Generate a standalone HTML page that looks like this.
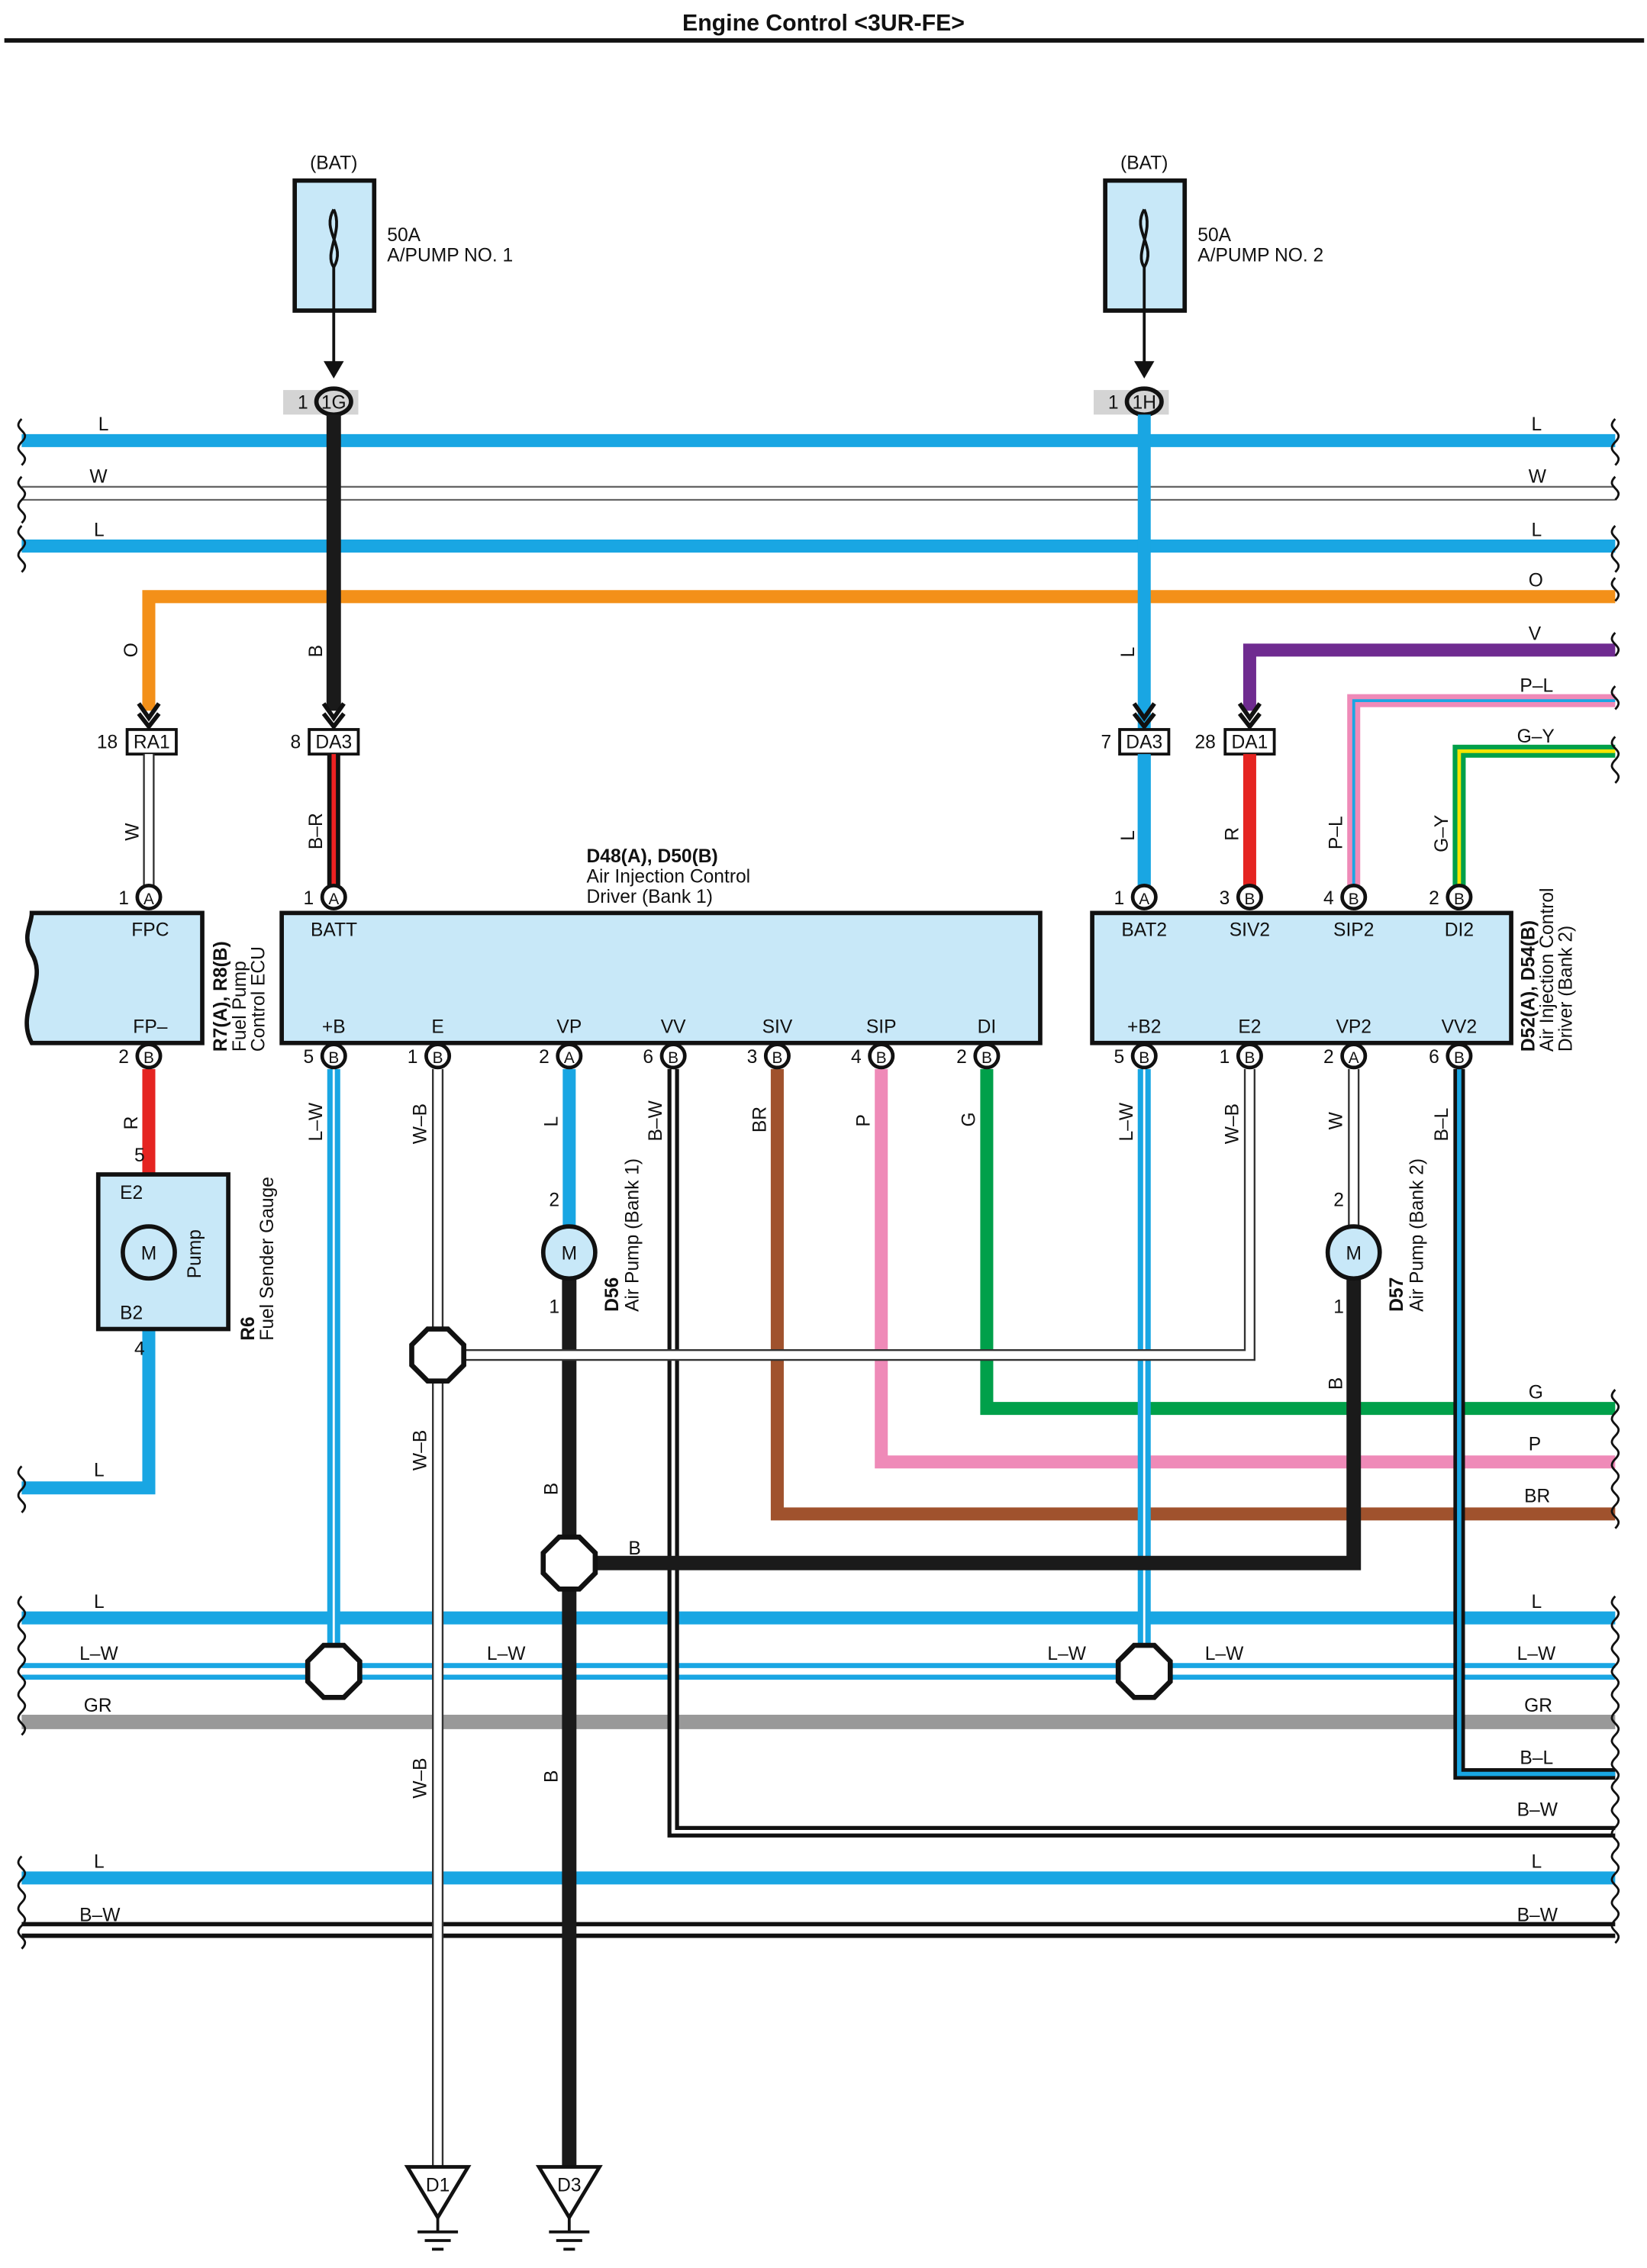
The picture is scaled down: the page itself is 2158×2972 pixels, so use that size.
<!DOCTYPE html>
<html><head><meta charset="utf-8"><style>
html,body{margin:0;padding:0;background:#fff}
svg{display:block}
text{font-family:"Liberation Sans",sans-serif;fill:#111}
.Lw{stroke:#19a6e3;stroke-width:9;fill:none}
.Bw{stroke:#1a1a1a;stroke-width:10;fill:none}
.Wo{stroke:#333;stroke-width:8;fill:none}
.Wi{stroke:#fff;stroke-width:5.5;fill:none}
.box{fill:#c8e8f8;stroke:#111;stroke-width:3}
.pin{fill:#fff;stroke:#111;stroke-width:2.5}
.oct{fill:#fff;stroke:#111;stroke-width:3.5}
.t{font-size:13px}
.tb{font-size:13px;font-weight:bold}
</style></head><body>
<svg width="2158" height="2972" viewBox="0 0 1140 1570" preserveAspectRatio="none" xmlns="http://www.w3.org/2000/svg">
<text x="570" y="21" text-anchor="middle" style="font-size:16px;font-weight:bold">Engine Control &lt;3UR-FE&gt;</text>
<line x1="3" y1="28" x2="1138" y2="28" stroke="#111" stroke-width="3"/>

<!-- fuses -->
<g>
<text x="231" y="117" text-anchor="middle" class="t">(BAT)</text>
<rect x="204" y="125" width="55" height="90" class="box"/>
<path d="M231 145 C222 160,240 170,231 185 C224 175,238 160,231 145" fill="none" stroke="#111" stroke-width="2"/>
<line x1="231" y1="185" x2="231" y2="255" stroke="#111" stroke-width="2"/>
<path d="M224 250 L231 262 L238 250 Z" fill="#111"/>
<text x="268" y="167" class="t">50A</text><text x="268" y="181" class="t">A/PUMP NO. 1</text>
<rect x="196" y="270" width="52" height="17" fill="#d4d4d4"/>
<text x="206" y="283" class="t">1</text>
<ellipse cx="231" cy="278" rx="12" ry="9" fill="#d4d4d4" stroke="#111" stroke-width="3"/>
<text x="231" y="283" text-anchor="middle" class="t">1G</text>
</g>
<g>
<text x="792" y="117" text-anchor="middle" class="t">(BAT)</text>
<rect x="765" y="125" width="55" height="90" class="box"/>
<path d="M792 145 C783 160,801 170,792 185 C785 175,799 160,792 145" fill="none" stroke="#111" stroke-width="2"/>
<line x1="792" y1="185" x2="792" y2="255" stroke="#111" stroke-width="2"/>
<path d="M785 250 L792 262 L799 250 Z" fill="#111"/>
<text x="829" y="167" class="t">50A</text><text x="829" y="181" class="t">A/PUMP NO. 2</text>
<rect x="757" y="270" width="52" height="17" fill="#d4d4d4"/>
<text x="767" y="283" class="t">1</text>
<ellipse cx="792" cy="278" rx="12" ry="9" fill="#d4d4d4" stroke="#111" stroke-width="3"/>
<text x="792" y="283" text-anchor="middle" class="t">1H</text>
</g>

<!-- top buses -->
<line x1="15" y1="305" x2="1118" y2="305" class="Lw"/>
<line x1="15" y1="337" x2="1118" y2="337" stroke="#666" stroke-width="1.2"/>
<line x1="15" y1="346" x2="1118" y2="346" stroke="#666" stroke-width="1.2"/>
<line x1="15" y1="378" x2="1118" y2="378" class="Lw"/>
<path d="M1118 413 H103 V492" stroke="#f39019" stroke-width="9" fill="none"/>
<path d="M1118 450 H865 V492" stroke="#6f2b90" stroke-width="9" fill="none"/>
<path d="M1118 485 H937 V615" stroke="#ef8ab8" stroke-width="9" fill="none"/>
<path d="M1118 485 H937 V615" stroke="#19a6e3" stroke-width="2" fill="none"/>
<path d="M1118 520 H1010 V615" stroke="#00a04a" stroke-width="9" fill="none"/>
<path d="M1118 520 H1010 V615" stroke="#f5e400" stroke-width="2.5" fill="none"/>
<text x="68" y="298" class="t">L</text><text x="1060" y="298" class="t">L</text>
<text x="62" y="334" class="t">W</text><text x="1058" y="334" class="t">W</text>
<text x="65" y="371" class="t">L</text><text x="1060" y="371" class="t">L</text>
<text x="1058" y="406" class="t">O</text><text x="1058" y="443" class="t">V</text>
<text x="1052" y="479" class="t">P–L</text><text x="1050" y="514" class="t">G–Y</text>

<!-- vertical feeds -->
<line x1="231" y1="287" x2="231" y2="492" class="Bw"/>
<line x1="792" y1="287" x2="792" y2="620" class="Lw"/>
<path d="M96 487 L103 497 L110 487 M96 494 L103 503 L110 494" stroke="#111" stroke-width="3" fill="none"/>
<path d="M224 487 L231 497 L238 487 M224 494 L231 503 L238 494" stroke="#111" stroke-width="3" fill="none"/>
<path d="M785 487 L792 497 L799 487 M785 494 L792 503 L799 494" stroke="#111" stroke-width="3" fill="none"/>
<path d="M858 487 L865 497 L872 487 M858 494 L865 503 L872 494" stroke="#111" stroke-width="3" fill="none"/>
<text x="95" y="455" class="t" transform="rotate(-90 95 455)">O</text>
<text x="223" y="455" class="t" transform="rotate(-90 223 455)">B</text>
<text x="785" y="455" class="t" transform="rotate(-90 785 455)">L</text>

<!-- connectors row -->
<g class="t">
<text x="67" y="518">18</text><rect x="88" y="505" width="34" height="17" fill="#fff" stroke="#111" stroke-width="2"/><text x="105" y="518" text-anchor="middle">RA1</text>
<text x="201" y="518">8</text><rect x="214" y="505" width="34" height="17" fill="#fff" stroke="#111" stroke-width="2"/><text x="231" y="518" text-anchor="middle">DA3</text>
<text x="762" y="518">7</text><rect x="775" y="505" width="34" height="17" fill="#fff" stroke="#111" stroke-width="2"/><text x="792" y="518" text-anchor="middle">DA3</text>
<text x="827" y="518">28</text><rect x="848" y="505" width="34" height="17" fill="#fff" stroke="#111" stroke-width="2"/><text x="865" y="518" text-anchor="middle">DA1</text>
</g>
<line x1="103" y1="522" x2="103" y2="615" class="Wo"/><line x1="103" y1="522" x2="103" y2="615" class="Wi"/>
<line x1="231" y1="522" x2="231" y2="615" stroke="#111" stroke-width="9"/>
<line x1="231" y1="522" x2="231" y2="615" stroke="#e22" stroke-width="3"/>
<line x1="792" y1="522" x2="792" y2="615" class="Lw"/>
<line x1="865" y1="522" x2="865" y2="615" stroke="#e52421" stroke-width="9"/>
<text x="96" y="582" class="t" transform="rotate(-90 96 582)">W</text>
<text x="223" y="588" class="t" transform="rotate(-90 223 588)">B–R</text>
<text x="785" y="582" class="t" transform="rotate(-90 785 582)">L</text>
<text x="857" y="582" class="t" transform="rotate(-90 857 582)">R</text>
<text x="929" y="588" class="t" transform="rotate(-90 929 588)">P–L</text>
<text x="1002" y="590" class="t" transform="rotate(-90 1002 590)">G–Y</text>

<!-- boxes -->
<path d="M22 632 H140 V722 H22 C10 700,34 680,22 660 C15 648,22 640,22 632 Z" class="box"/>
<text x="104" y="648" text-anchor="middle" class="t">FPC</text>
<text x="104" y="715" text-anchor="middle" class="t">FP–</text>
<text x="157" y="728" class="tb" transform="rotate(-90 157 728)">R7(A), R8(B)</text>
<text x="170" y="728" class="t" transform="rotate(-90 170 728)">Fuel Pump</text>
<text x="183" y="728" class="t" transform="rotate(-90 183 728)">Control ECU</text>

<rect x="195" y="632" width="525" height="90" class="box"/>
<text x="406" y="597" class="tb">D48(A), D50(B)</text>
<text x="406" y="611" class="t">Air Injection Control</text>
<text x="406" y="625" class="t">Driver (Bank 1)</text>
<text x="215" y="648" class="t">BATT</text>
<g class="t" text-anchor="middle">
<text x="231" y="715">+B</text><text x="303" y="715">E</text><text x="394" y="715">VP</text><text x="466" y="715">VV</text><text x="538" y="715">SIV</text><text x="610" y="715">SIP</text><text x="683" y="715">DI</text>
</g>
<rect x="756" y="632" width="290" height="90" class="box"/>
<g class="t" text-anchor="middle">
<text x="792" y="648">BAT2</text><text x="865" y="648">SIV2</text><text x="937" y="648">SIP2</text><text x="1010" y="648">DI2</text>
<text x="792" y="715">+B2</text><text x="865" y="715">E2</text><text x="937" y="715">VP2</text><text x="1010" y="715">VV2</text>
</g>
<text x="1062" y="728" class="tb" transform="rotate(-90 1062 728)">D52(A), D54(B)</text>
<text x="1075" y="728" class="t" transform="rotate(-90 1075 728)">Air Injection Control</text>
<text x="1088" y="728" class="t" transform="rotate(-90 1088 728)">Driver (Bank 2)</text>

<!-- pins top -->
<g class="t">
<circle cx="103" cy="621" r="8" class="pin"/><text x="103" y="626" text-anchor="middle" style="font-size:11px">A</text><text x="82" y="626">1</text>
<circle cx="231" cy="621" r="8" class="pin"/><text x="231" y="626" text-anchor="middle" style="font-size:11px">A</text><text x="210" y="626">1</text>
<circle cx="792" cy="621" r="8" class="pin"/><text x="792" y="626" text-anchor="middle" style="font-size:11px">A</text><text x="771" y="626">1</text>
<circle cx="865" cy="621" r="8" class="pin"/><text x="865" y="626" text-anchor="middle" style="font-size:11px">B</text><text x="844" y="626">3</text>
<circle cx="937" cy="621" r="8" class="pin"/><text x="937" y="626" text-anchor="middle" style="font-size:11px">B</text><text x="916" y="626">4</text>
<circle cx="1010" cy="621" r="8" class="pin"/><text x="1010" y="626" text-anchor="middle" style="font-size:11px">B</text><text x="989" y="626">2</text>
</g>

<!-- lower wires -->
<!-- buses -->
<line x1="15" y1="1120" x2="1118" y2="1120" class="Lw"/>
<line x1="15" y1="1153" x2="1118" y2="1153" stroke="#19a6e3" stroke-width="3.5"/>
<line x1="15" y1="1161" x2="1118" y2="1161" stroke="#19a6e3" stroke-width="3.5"/>
<line x1="15" y1="1192" x2="1118" y2="1192" stroke="#999" stroke-width="10"/>
<line x1="15" y1="1300" x2="1118" y2="1300" class="Lw"/>
<line x1="15" y1="1332" x2="1118" y2="1332" stroke="#111" stroke-width="3"/>
<line x1="15" y1="1340" x2="1118" y2="1340" stroke="#111" stroke-width="3"/>
<!-- left pump -->
<line x1="103" y1="740" x2="103" y2="813" stroke="#e52421" stroke-width="9"/>
<path d="M103 920 V1030 H15" class="Lw"/>
<rect x="68" y="813" width="90" height="107" class="box"/>
<circle cx="103" cy="867" r="18" class="box"/>
<text x="103" y="872" text-anchor="middle" class="t">M</text>
<text x="83" y="830" class="t">E2</text><text x="83" y="913" class="t">B2</text>
<text x="93" y="804" class="t">5</text><text x="93" y="938" class="t">4</text>
<text x="95" y="782" class="t" transform="rotate(-90 95 782)">R</text>
<text x="139" y="885" class="t" transform="rotate(-90 139 885)">Pump</text>
<text x="176" y="928" class="tb" transform="rotate(-90 176 928)">R6</text>
<text x="189" y="928" class="t" transform="rotate(-90 189 928)">Fuel Sender Gauge</text>
<text x="65" y="1022" class="t">L</text>

<!-- bank1 wires -->
<line x1="231" y1="740" x2="231" y2="1157" class="Lw"/>
<line x1="231" y1="740" x2="231" y2="1157" stroke="#fff" stroke-width="1.5"/>
<line x1="303" y1="740" x2="303" y2="1500" class="Wo"/><line x1="303" y1="740" x2="303" y2="1500" class="Wi"/>
<line x1="394" y1="740" x2="394" y2="850" class="Lw"/>
<line x1="394" y1="885" x2="394" y2="1500" class="Bw"/>
<path d="M466 740 V1268 H1118" stroke="#111" stroke-width="8" fill="none"/>
<path d="M466 740 V1268 H1118" stroke="#fff" stroke-width="2.5" fill="none"/>
<path d="M538 740 V1048 H1118" stroke="#a0522d" stroke-width="9" fill="none"/>
<path d="M610 740 V1012 H1118" stroke="#ef8ab8" stroke-width="9" fill="none"/>
<path d="M683 740 V975 H1118" stroke="#00a04a" stroke-width="9" fill="none"/>
<!-- bank2 -->
<line x1="792" y1="740" x2="792" y2="1157" class="Lw"/>
<line x1="792" y1="740" x2="792" y2="1157" stroke="#fff" stroke-width="1.5"/>
<path d="M865 740 V938 H303" class="Wo"/><path d="M865 740 V938 H303" class="Wi"/>
<line x1="937" y1="740" x2="937" y2="850" class="Wo"/><line x1="937" y1="740" x2="937" y2="850" class="Wi"/>
<path d="M937 885 V1082 H394" class="Bw"/>
<path d="M1010 740 V1228 H1118" stroke="#111" stroke-width="8" fill="none"/>
<path d="M1010 740 V1228 H1118" stroke="#19a6e3" stroke-width="3" fill="none"/>

<!-- pins bottom -->
<g class="t">
<circle cx="103" cy="731" r="8" class="pin"/><text x="103" y="736" text-anchor="middle" style="font-size:11px">B</text><text x="82" y="736">2</text>
<circle cx="231" cy="731" r="8" class="pin"/><text x="231" y="736" text-anchor="middle" style="font-size:11px">B</text><text x="210" y="736">5</text>
<circle cx="303" cy="731" r="8" class="pin"/><text x="303" y="736" text-anchor="middle" style="font-size:11px">B</text><text x="282" y="736">1</text>
<circle cx="394" cy="731" r="8" class="pin"/><text x="394" y="736" text-anchor="middle" style="font-size:11px">A</text><text x="373" y="736">2</text>
<circle cx="466" cy="731" r="8" class="pin"/><text x="466" y="736" text-anchor="middle" style="font-size:11px">B</text><text x="445" y="736">6</text>
<circle cx="538" cy="731" r="8" class="pin"/><text x="538" y="736" text-anchor="middle" style="font-size:11px">B</text><text x="517" y="736">3</text>
<circle cx="610" cy="731" r="8" class="pin"/><text x="610" y="736" text-anchor="middle" style="font-size:11px">B</text><text x="589" y="736">4</text>
<circle cx="683" cy="731" r="8" class="pin"/><text x="683" y="736" text-anchor="middle" style="font-size:11px">B</text><text x="662" y="736">2</text>
<circle cx="792" cy="731" r="8" class="pin"/><text x="792" y="736" text-anchor="middle" style="font-size:11px">B</text><text x="771" y="736">5</text>
<circle cx="865" cy="731" r="8" class="pin"/><text x="865" y="736" text-anchor="middle" style="font-size:11px">B</text><text x="844" y="736">1</text>
<circle cx="937" cy="731" r="8" class="pin"/><text x="937" y="736" text-anchor="middle" style="font-size:11px">A</text><text x="916" y="736">2</text>
<circle cx="1010" cy="731" r="8" class="pin"/><text x="1010" y="736" text-anchor="middle" style="font-size:11px">B</text><text x="989" y="736">6</text>
</g>

<!-- wire labels -->
<g class="t">
<text x="223" y="790" transform="rotate(-90 223 790)">L–W</text>
<text x="295" y="792" transform="rotate(-90 295 792)">W–B</text>
<text x="386" y="780" transform="rotate(-90 386 780)">L</text>
<text x="458" y="790" transform="rotate(-90 458 790)">B–W</text>
<text x="530" y="784" transform="rotate(-90 530 784)">BR</text>
<text x="602" y="780" transform="rotate(-90 602 780)">P</text>
<text x="675" y="780" transform="rotate(-90 675 780)">G</text>
<text x="784" y="790" transform="rotate(-90 784 790)">L–W</text>
<text x="857" y="792" transform="rotate(-90 857 792)">W–B</text>
<text x="929" y="782" transform="rotate(-90 929 782)">W</text>
<text x="1002" y="790" transform="rotate(-90 1002 790)">B–L</text>
<text x="295" y="1018" transform="rotate(-90 295 1018)">W–B</text>
<text x="386" y="1035" transform="rotate(-90 386 1035)">B</text>
<text x="929" y="962" transform="rotate(-90 929 962)">B</text>
<text x="295" y="1245" transform="rotate(-90 295 1245)">W–B</text>
<text x="386" y="1234" transform="rotate(-90 386 1234)">B</text>
<text x="435" y="1076">B</text>
<text x="380" y="835">2</text><text x="380" y="909">1</text>
<text x="923" y="835">2</text><text x="923" y="909">1</text>
<text x="1058" y="968">G</text><text x="1058" y="1004">P</text><text x="1055" y="1040">BR</text>
<text x="65" y="1113">L</text><text x="1060" y="1113">L</text>
<text x="55" y="1149">L–W</text><text x="337" y="1149">L–W</text><text x="725" y="1149">L–W</text><text x="834" y="1149">L–W</text><text x="1050" y="1149">L–W</text>
<text x="58" y="1185">GR</text><text x="1055" y="1185">GR</text>
<text x="1052" y="1221">B–L</text><text x="1050" y="1257">B–W</text>
<text x="65" y="1293">L</text><text x="1060" y="1293">L</text>
<text x="55" y="1330">B–W</text><text x="1050" y="1330">B–W</text>
</g>

<!-- motors -->
<circle cx="394" cy="867" r="18" class="box"/><text x="394" y="872" text-anchor="middle" class="t">M</text>
<text x="428" y="908" class="tb" transform="rotate(-90 428 908)">D56</text>
<text x="442" y="908" class="t" transform="rotate(-90 442 908)">Air Pump (Bank 1)</text>
<circle cx="937" cy="867" r="18" class="box"/><text x="937" y="872" text-anchor="middle" class="t">M</text>
<text x="971" y="908" class="tb" transform="rotate(-90 971 908)">D57</text>
<text x="985" y="908" class="t" transform="rotate(-90 985 908)">Air Pump (Bank 2)</text>

<!-- splices -->
<polygon points="296,920 310,920 321,931 321,945 310,956 296,956 285,945 285,931" class="oct"/>
<polygon points="387,1064 401,1064 412,1075 412,1089 401,1100 387,1100 376,1089 376,1075" class="oct"/>
<polygon points="224,1139 238,1139 249,1150 249,1164 238,1175 224,1175 213,1164 213,1150" class="oct"/>
<polygon points="785,1139 799,1139 810,1150 810,1164 799,1175 785,1175 774,1164 774,1150" class="oct"/>

<!-- grounds -->
<g>
<path d="M282 1500 H324 L303 1535 Z" fill="#fff" stroke="#111" stroke-width="2.5"/>
<text x="303" y="1517" text-anchor="middle" class="t">D1</text>
<line x1="303" y1="1535" x2="303" y2="1545" stroke="#111" stroke-width="2"/>
<line x1="289" y1="1545" x2="317" y2="1545" stroke="#111" stroke-width="2"/>
<line x1="294" y1="1551" x2="312" y2="1551" stroke="#111" stroke-width="2"/>
<line x1="299" y1="1557" x2="307" y2="1557" stroke="#111" stroke-width="2"/>
<path d="M373 1500 H415 L394 1535 Z" fill="#fff" stroke="#111" stroke-width="2.5"/>
<text x="394" y="1517" text-anchor="middle" class="t">D3</text>
<line x1="394" y1="1535" x2="394" y2="1545" stroke="#111" stroke-width="2"/>
<line x1="380" y1="1545" x2="408" y2="1545" stroke="#111" stroke-width="2"/>
<line x1="385" y1="1551" x2="403" y2="1551" stroke="#111" stroke-width="2"/>
<line x1="390" y1="1557" x2="398" y2="1557" stroke="#111" stroke-width="2"/>
</g>

<!-- wavy ends -->
<g fill="none" stroke="#111" stroke-width="1.5">
<path d="M15 290 c-8 8,8 8,0 16 c-8 8,8 8,0 16 M15 330 c-8 8,8 8,0 16 c-8 8,8 8,0 16 M15 364 c-8 8,8 8,0 16 c-8 8,8 8,0 16"/>
<path d="M1118 290 c-8 8,8 8,0 16 c-8 8,8 8,0 16 M1118 330 c-8 8,8 8,0 16 M1118 364 c-8 8,8 8,0 16 c-8 8,8 8,0 16 M1118 400 c-8 8,8 8,0 16 M1118 438 c-8 8,8 8,0 16 M1118 475 c-8 8,8 8,0 16 M1118 510 c-8 8,8 8,0 16 c-8 8,8 8,0 16"/>
<path d="M15 1015 c-8 8,8 8,0 16 c-8 8,8 8,0 16"/>
<path d="M15 1105 c-8 8,8 8,0 16 c-8 8,8 8,0 16 c-8 8,8 8,0 16 c-8 8,8 8,0 16 c-8 8,8 8,0 16 c-8 8,8 8,0 16"/>
<path d="M1118 962 c-8 8,8 8,0 16 c-8 8,8 8,0 16 c-8 8,8 8,0 16 c-8 8,8 8,0 16 c-8 8,8 8,0 16 c-8 8,8 8,0 16"/>
<path d="M1118 1105 c-8 8,8 8,0 16 c-8 8,8 8,0 16 c-8 8,8 8,0 16 c-8 8,8 8,0 16 c-8 8,8 8,0 16 c-8 8,8 8,0 16 c-8 8,8 8,0 16 c-8 8,8 8,0 16 c-8 8,8 8,0 16 c-8 8,8 8,0 16 c-8 8,8 8,0 16 c-8 8,8 8,0 16 c-8 8,8 8,0 16 c-8 8,8 8,0 16 c-8 8,8 8,0 16"/>
<path d="M15 1285 c-8 8,8 8,0 16 c-8 8,8 8,0 16 c-8 8,8 8,0 16 c-8 8,8 8,0 16"/>
</g>
</svg>
</body></html>
